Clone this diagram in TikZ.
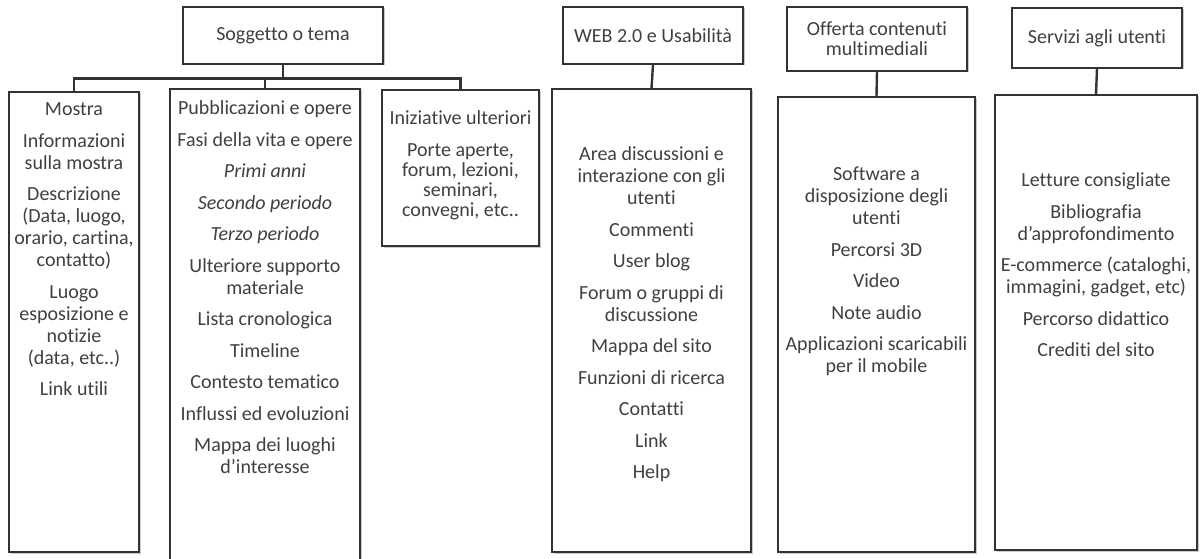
\documentclass[tikz,border=0pt]{standalone}
\usepackage{fontspec}
\setmainfont{Carlito}[Ligatures={NoCommon}]
\usetikzlibrary{positioning,shadows}

\tikzset{
  titolo/.style={draw=black!80, line width=1.4pt, fill=white, align=center,
    inner sep=0pt, text=black!75,
    drop shadow={shadow xshift=1.5pt, shadow yshift=-1.5pt, fill=black!35, opacity=0.6}},
  elenco/.style={draw=black!80, line width=1.4pt, fill=white,
    drop shadow={shadow xshift=1.5pt, shadow yshift=-1.5pt, fill=black!35, opacity=0.6}},
  voci/.style={align=center, anchor=north, inner sep=0pt, text=black!75,
    execute at begin node=\strut},
  ramo/.style={draw=black!80, line width=2.4pt}
}

\begin{document}
\begin{tikzpicture}[x=1pt, y=-1pt, font=\fontsize{20}{22}\selectfont]
\useasboundingbox (0,0) rectangle (1200,559);

% titoli
\node (soggetto) [titolo, minimum width=200pt, minimum height=57pt] at (283,35.5) {Soggetto o tema};
\node (web) [titolo, minimum width=180pt, minimum height=57pt] at (653,35.5) {WEB 2.0 e Usabilità};
\node (offerta) [titolo, minimum width=180pt, minimum height=64pt,
    font=\fontsize{20}{20}\selectfont] at (877,39) {Offerta contenuti\\multimediali};
\node (servizi) [titolo, minimum width=170pt, minimum height=60pt] at (1097,38) {Servizi agli utenti};

% riquadri
\node (mostra) [elenco, minimum width=130pt, minimum height=460pt] at (74,322) {};
\node (pubblicazioni) [elenco, minimum width=190pt, minimum height=490pt] at (265,334) {};
\node (iniziative) [elenco, minimum width=157pt, minimum height=156pt] at (460.5,168) {};
\node (usabilita) [elenco, minimum width=199pt, minimum height=463pt] at (651.5,320.5) {};
\node (multimedia) [elenco, minimum width=197pt, minimum height=455pt] at (876.5,324.5) {};
\node (utenti) [elenco, minimum width=202pt, minimum height=455pt] at (1096,322.5) {};

% rami
\draw [ramo] (soggetto.south) -- ++(0,14) coordinate (nodo);
\draw [ramo] (nodo) -| (mostra.north);
\draw [ramo] (nodo) -| (pubblicazioni.north);
\draw [ramo] (nodo) -| (iniziative.north);
\draw [ramo] (web.south) -- (usabilita.north);
\draw [ramo] (offerta.south) -- (multimedia.north);
\draw [ramo] (servizi.south) -- (utenti.north);

% voci
\node (mostratxt) [voci] at ([yshift=-11.6pt]mostra.north) {Mostra\\[9.5pt]
    Informazioni\\sulla mostra\\[9.5pt]
    Descrizione\\(Data, luogo,\\orario, cartina,\\contatto)\\[9.5pt]
    Luogo\\esposizione e\\notizie\\(data, etc..)\\[9.5pt]
    Link utili};

\node (pubblicazionitxt) [voci] at ([yshift=-12.6pt]pubblicazioni.north) {Pubblicazioni e opere\\[9.5pt]
    Fasi della vita e opere\\[9.5pt]
    \textit{Primi anni}\\[9.5pt]
    \textit{Secondo periodo}\\[9.5pt]
    \textit{Terzo periodo}\\[9.5pt]
    Ulteriore supporto\\materiale\\[9.5pt]
    Lista cronologica\\[9.5pt]
    Timeline\\[9.5pt]
    Contesto tematico\\[9.5pt]
    Influssi ed evoluzioni\\[9.5pt]
    Mappa dei luoghi\\d'interesse};

\node (iniziativetxt) [voci, font=\fontsize{20}{20}\selectfont] at ([yshift=-21pt]iniziative.north) {Iniziative ulteriori\\[12pt]
    Porte aperte,\\forum, lezioni,\\seminari,\\convegni, etc..};

\node (usabilitatxt) [voci] at ([yshift=-58.6pt]usabilita.north) {Area discussioni e\\interazione con gli\\utenti\\[9.5pt]
    Commenti\\[9.5pt]
    User blog\\[9.5pt]
    Forum o gruppi di\\discussione\\[9.5pt]
    Mappa del sito\\[9.5pt]
    Funzioni di ricerca\\[9.5pt]
    Contatti\\[9.5pt]
    Link\\[9.5pt]
    Help};

\node (multimediatxt) [voci] at ([yshift=-70.6pt]multimedia.north) {Software a\\disposizione degli\\utenti\\[9.5pt]
    Percorsi 3D\\[9.5pt]
    Video\\[9.5pt]
    Note audio\\[9.5pt]
    Applicazioni scaricabili\\per il mobile};

\node (utentitxt) [voci] at ([yshift=-78.6pt]utenti.north) {Letture consigliate\\[9.5pt]
    Bibliografia\\d'approfondimento\\[9.5pt]
    E-commerce (cataloghi,\\immagini, gadget, etc)\\[9.5pt]
    Percorso didattico\\[9.5pt]
    Crediti del sito};

\end{tikzpicture}
\end{document}
